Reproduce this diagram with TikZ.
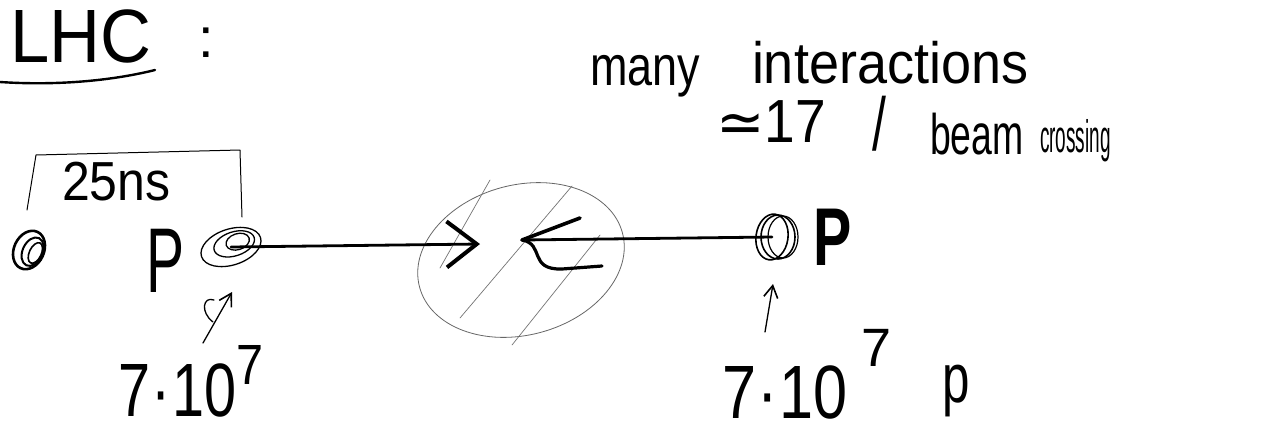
\documentclass[tikz,border=0pt]{standalone}
\usepackage{fontspec}
\usepackage{graphicx}
\setmainfont{Liberation Sans}
\newfontfamily\djv{DejaVu Sans}
\usetikzlibrary{arrows.meta,shapes.geometric}
\newcommand{\fsz}[1]{\fontsize{#1}{#1}\selectfont}
\begin{document}
\begin{tikzpicture}[x=1pt,y=-1pt,
  hand/.style={line width=2.4pt,line cap=round,line join=round},
  pen/.style={line width=1.3pt,line cap=round,line join=round},
  faint/.style={line width=0.7pt,black!55,line cap=round},
  txt/.style={inner sep=0pt,outer sep=0pt,anchor=base west},
  ring/.style={draw,fill=none,line width=1.8pt,inner sep=0pt},
  beamline/.style={line width=2.8pt,line cap=round},
  chevron/.style={-{Straight Barb[length=30pt,width=46pt,line width=4pt]}},
  uparrow/.style={pen,-{Straight Barb[length=12pt,width=14pt,line width=1.6pt]}}
]
\useasboundingbox (0,0) rectangle (1262,432);

% title
\node[txt] (lhc) at (10,62) {\fsz{72}\scalebox{0.98}[1.05]{LHC}};
\node[txt] (colon) at (198,57) {\fsz{56}:};
\draw[hand] (0,82) .. controls (60,86) and (115,80) .. (155,70);

% interaction note
\node[txt] (many) at (590,85) {\fsz{50}\scalebox{0.9}[1.12]{many}};
\node[txt] (inter) at (752,83) {\fsz{54}\scalebox{1}[1.08]{interactions}};
\node[txt] (num17) at (716,142) {\fsz{58}{\djv ≃}\scalebox{0.95}[1.05]{17}};
\node[txt] (slash) at (872,150) {\fsz{50}\scalebox{1}[1.5]{/}};
\node[txt] (beamw) at (930,154) {\fsz{44}\scalebox{0.85}[1.3]{beam}};
\node[txt] (cross) at (1040,152) {\fsz{38}\scalebox{0.5}[1.2]{crossing}};

% bunch spacing bracket
\coordinate (brL) at (27,210);
\coordinate (brTL) at (36,155);
\coordinate (brTR) at (240,150);
\coordinate (brR) at (242,217);
\draw[pen,line width=1pt] (brL) -- (brTL) -- (brTR) -- (brR);
\node[txt] (ns) at (62,200) {\fsz{50}\scalebox{1}[1.1]{25ns}};

% left bunches
\node[ring,ellipse,line width=2.6pt,minimum width=30,minimum height=40,rotate=-25] (bA) at (29,250) {};
\draw[line width=2pt,rotate around={-25:(bA.center)}] ([xshift=4pt]bA.center) ellipse (10 and 15);
\draw[line width=1.6pt,rotate around={-25:(bA.center)}] ([xshift=7pt]bA.center) ellipse (6 and 11);
\node[txt] (pL) at (146,292) {\fsz{92}\scalebox{0.62}[1]{P}};

\node[ring,ellipse,line width=1.3pt,minimum width=62,minimum height=36,rotate=18] (bB) at (231,247) {};
\draw[line width=1.3pt,rotate around={18:(bB.center)}] ([shift={(4pt,2pt)}]bB.center) ellipse (21 and 12);
\draw[line width=1.3pt,rotate around={18:(bB.center)}] ([shift={(8pt,3pt)}]bB.center) ellipse (12 and 8);

% collision region
\node[draw=black!60,fill=none,line width=0.8pt,ellipse,minimum width=210,minimum height=150,rotate=15] (ip) at (521,260) {};
\draw[faint] (490,180) -- (440,268);
\draw[faint] (572,186) -- (460,318);
\draw[faint] (600,235) -- (512,345);

% beams
\coordinate (hitL) at (480,244);
\coordinate (hitR) at (522,240);
\draw[beamline,chevron] (bB.center) -- (hitL);

\node[ring,ellipse,line width=1.6pt,minimum width=32,minimum height=46,rotate=-8] (bC) at (772,237) {};
\draw[line width=1.6pt] ([xshift=6pt]bC.center) ellipse (17 and 22);
\draw[line width=1.2pt] ([xshift=11pt]bC.center) ellipse (15 and 21);
\draw[beamline] (bC.center) -- (hitR);
\draw[hand,line width=3.6pt] (hitR) -- ++(58,-22);
\draw[hand,line width=3.2pt] (hitR) .. controls (545,244) and (528,270) .. (562,269) -- (602,266);

\node[txt] (pR) at (813,265) {\fsz{82}\bfseries\scalebox{0.7}[1]{P}};

% counts
\coordinate (aR0) at (765,332);
\coordinate (aR1) at (773,284);
\draw[uparrow] (aR0) -- (aR1);
\coordinate (aL0) at (203,343);
\coordinate (aL1) at (232,292);
\draw[uparrow] (aL0) -- (aL1);
\draw[pen] (213,322) .. controls (200,312) and (203,296) .. (214,300);

\node[txt] (nL) at (118,416) {\fsz{72}\scalebox{0.8}[1.05]{7\kern2pt·\kern2pt10}\raisebox{32pt}{\fsz{54}\scalebox{0.9}[1.05]{7}}};
\node[txt] (nR) at (722,418) {\fsz{72}\scalebox{0.85}[1.05]{7\kern2pt·\kern2pt10}\kern14pt\raisebox{52pt}{\fsz{54}7}};
\node[txt] (pNR) at (942,402) {\fsz{58}\scalebox{0.85}[1.2]{p}};
\end{tikzpicture}
\end{document}
